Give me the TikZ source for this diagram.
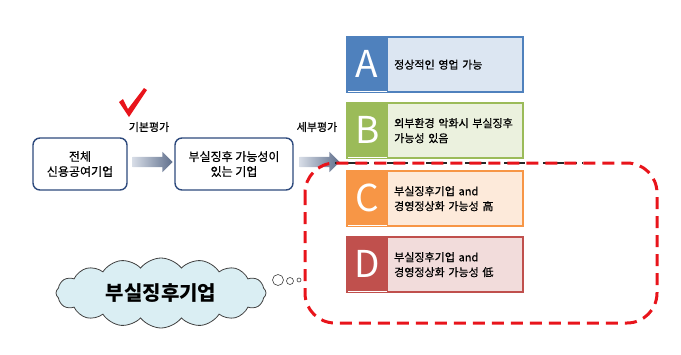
\documentclass[tikz,border=0pt]{standalone}
\usepackage{fontspec}
\setmainfont{Noto Sans CJK KR}
\newfontfamily\medfont{Noto Sans CJK KR}[FakeBold=0.7]
\usetikzlibrary{shapes.arrows,shapes.symbols}
\definecolor{boxblue}{HTML}{2E4A7D}
\definecolor{adark}{HTML}{4F81BD}\definecolor{alight}{HTML}{DCE6F2}
\definecolor{bdark}{HTML}{9BBB59}\definecolor{blight}{HTML}{EBF1DE}
\definecolor{cdark}{HTML}{F79646}\definecolor{clight}{HTML}{FDEADA}
\definecolor{ddark}{HTML}{C0504D}\definecolor{dlight}{HTML}{F2DCDB}
\definecolor{dashred}{HTML}{E8141B}
\definecolor{cloudfill}{HTML}{DAEEF3}
\definecolor{arrowdark}{HTML}{5F6F8C}
\definecolor{arrowlight}{HTML}{D6DCE6}
\tikzset{
  flowbox/.style={draw=boxblue, line width=1.4pt, rounded corners=7pt, fill=white,
    minimum height=52pt, align=center, font=\medfont\fontsize{12}{15}\selectfont, inner sep=2pt},
  blockarrow/.style={single arrow, minimum height=40pt, inner sep=5pt,
    single arrow head extend=5pt, left color=arrowlight, right color=arrowdark, draw=none},
  steplabel/.style={font=\medfont\fontsize{11}{13}\selectfont},
  letterbox/.style={minimum width=40pt, minimum height=54pt, inner sep=0pt,
    text=white, font=\fontsize{37}{37}\selectfont},
  gradetext/.style={minimum width=135pt, minimum height=54pt, inner sep=0pt, line width=1.3pt},
  gradelabel/.style={anchor=west, align=left, text width=125pt, inner sep=0pt,
    font=\medfont\fontsize{11}{15}\selectfont},
  bubble/.style={circle, draw=black!75, fill=white, line width=0.6pt, inner sep=0pt}
}
\newcommand\gradebox[6]{%
  \node[gradetext, fill=#4, draw=#3, anchor=north west] (#1t) at (387,#2) {};
  \node[letterbox, fill=#3, anchor=north west] (#1l) at (347,#2) {#5};
  \draw[#3, line width=1.3pt] (#1l.north west) rectangle (#1t.south east);
  \node[gradelabel] (#1x) at ([xshift=7pt]#1t.west) {#6};
}
\begin{document}
\begin{tikzpicture}[x=1pt,y=-1pt]
\path[use as bounding box] (0,0) rectangle (681,354);

% flow boxes
\node[flowbox, minimum width=94pt] (all) at (80,164) {전체\\신용공여기업};
\node[flowbox, minimum width=118pt] (poss) at (234,164) {부실징후 가능성이\\있는 기업};

% block arrows
\node[blockarrow] (ar1) at (150,162) {};
\node[blockarrow] (ar2) at (317,162) {};
\node[steplabel] (lab1) at (149,127) {기본평가};
\node[steplabel] (lab2) at (317,127) {세부평가};

% check mark
\fill[dashred] (119,102) -- (123,99) -- (128,109) -- (144,88) -- (147,90) -- (129,117) -- cycle;

% grade boxes
\gradebox{ga}{37}{adark}{alight}{A}{정상적인 영업 가능}
\gradebox{gb}{103}{bdark}{blight}{B}{외부환경 악화시 부실징후\\가능성 있음}
\gradebox{gc}{171}{cdark}{clight}{C}{부실징후기업 and\\경영정상화 가능성 高}
\gradebox{gd}{237}{ddark}{dlight}{D}{부실징후기업 and\\경영정상화 가능성 低}

% dashed region
\draw[black!85, line width=2pt, dash pattern=on 8pt off 5pt] (335,163) -- (583,163);
\draw[dashred, line width=3pt, dash pattern=on 12pt off 7pt, rounded corners=30pt]
  (305,163) rectangle (657,323);

% cloud
\node[cloud, cloud puffs=16, cloud puff arc=105, aspect=3, draw=black!75, line width=0.8pt, fill=cloudfill,
  minimum width=210pt, minimum height=70pt, inner sep=0pt,
  font=\fontsize{20}{22}\selectfont\bfseries] (cloud) at (161,293) {부실징후기업};
\node[bubble, minimum size=11pt] (b1) at (278,280) {};
\node[bubble, minimum size=7pt] (b2) at (290,281) {};
\node[bubble, minimum size=4pt] (b3) at (299,280) {};
\end{tikzpicture}
\end{document}
